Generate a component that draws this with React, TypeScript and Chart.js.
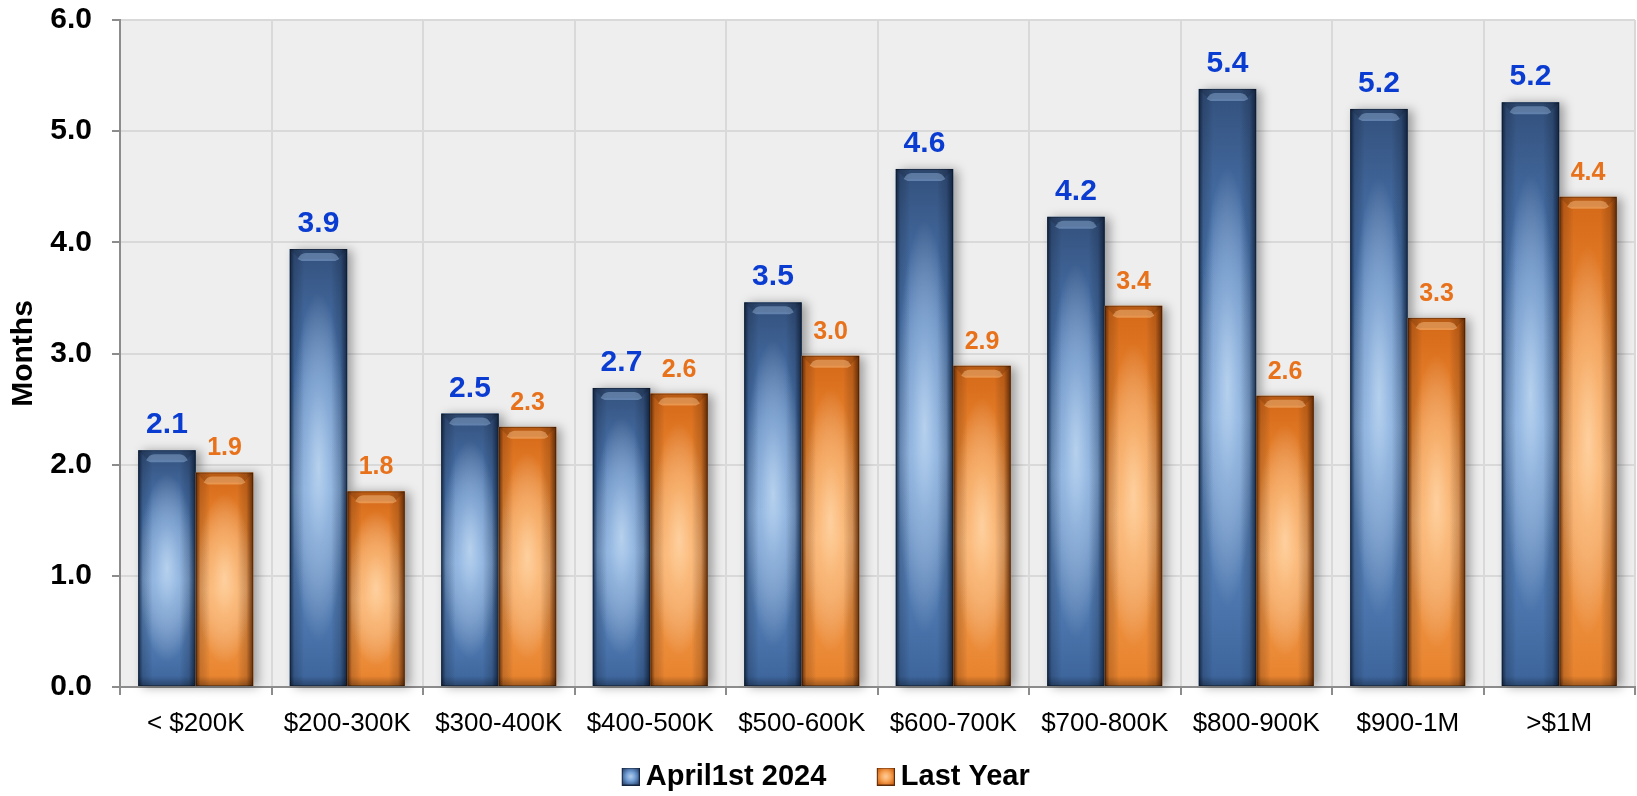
import React, { useEffect, useRef } from 'react';
import { Chart, registerables } from 'chart.js';

Chart.register(...registerables);

const categories = ['< $200K', '$200-300K', '$300-400K', '$400-500K', '$500-600K', '$600-700K', '$700-800K', '$800-900K', '$900-1M', '>$1M'];
const april2024 = [2.13, 3.94, 2.46, 2.69, 3.46, 4.66, 4.23, 5.38, 5.2, 5.26];
const lastYear = [1.93, 1.76, 2.34, 2.64, 2.98, 2.89, 3.43, 2.62, 3.32, 4.41];
const aprilLabels = ['2.1', '3.9', '2.5', '2.7', '3.5', '4.6', '4.2', '5.4', '5.2', '5.2'];
const lastYearLabels = ['1.9', '1.8', '2.3', '2.6', '3.0', '2.9', '3.4', '2.6', '3.3', '4.4'];
const seriesNames = ['April1st 2024', 'Last Year'];
const yMin = 0;
const yMax = 6;
const yStep = 1;

const FONT = '"Liberation Sans", Arial, sans-serif';

type Pal = { top: string; mid: string; light: string; bottom: string; hi: string; edge: string; edgeSoft: string; bevel: string; label: string; labelSize: number };

const palettes: Pal[] = [
  { top: '#33507c', mid: '#4e7cb8', light: '#6d9bd3', bottom: '#3c649b', hi: 'rgba(196,219,243,0.85)', edge: 'rgba(10,22,42,0.8)', edgeSoft: 'rgba(10,22,42,0.22)', bevel: 'rgba(150,185,225,0.45)', label: '#0a3cd2', labelSize: 30 },
  { top: '#d46818', mid: '#ee8a33', light: '#f8a456', bottom: '#e6812c', hi: 'rgba(255,216,172,0.85)', edge: 'rgba(72,30,4,0.85)', edgeSoft: 'rgba(72,30,4,0.22)', bevel: 'rgba(250,190,130,0.5)', label: '#e8721c', labelSize: 25 },
];

function paintBar(ctx: CanvasRenderingContext2D, x: number, top: number, base: number, w: number, p: Pal) {
  const left = x - w / 2;
  const h = base - top;
  if (h <= 0) return;
  ctx.save();
  ctx.save();
  ctx.shadowColor = 'rgba(0,0,0,0.35)';
  ctx.shadowBlur = 10;
  ctx.shadowOffsetX = 5;
  ctx.shadowOffsetY = 1;
  ctx.fillStyle = p.mid;
  ctx.fillRect(left, top, w, h);
  ctx.restore();

  ctx.beginPath();
  ctx.rect(left, top, w, h);
  ctx.clip();

  const vg = ctx.createLinearGradient(0, top, 0, base);
  vg.addColorStop(0, p.top);
  vg.addColorStop(0.3, p.mid);
  vg.addColorStop(0.55, p.light);
  vg.addColorStop(1, p.bottom);
  ctx.fillStyle = vg;
  ctx.fillRect(left, top, w, h);

  const cy = top + h * 0.5;
  const rx = w * 0.5;
  const ry = Math.max(rx * 1.5, Math.min(h * 0.4, 220));
  ctx.save();
  ctx.translate(x, cy);
  ctx.scale(1, ry / rx);
  const rg = ctx.createRadialGradient(0, 0, 0, 0, 0, rx);
  rg.addColorStop(0, p.hi);
  rg.addColorStop(0.45, p.hi.replace(/[\d.]+\)$/, '0.45)'));
  rg.addColorStop(1, 'rgba(255,255,255,0)');
  ctx.fillStyle = rg;
  ctx.fillRect(-w, -rx * 2, w * 2, rx * 4);
  ctx.restore();

  const hg = ctx.createLinearGradient(left, 0, left + w, 0);
  hg.addColorStop(0, p.edge);
  hg.addColorStop(0.08, p.edgeSoft);
  hg.addColorStop(0.25, 'rgba(0,0,0,0)');
  hg.addColorStop(0.72, 'rgba(0,0,0,0)');
  hg.addColorStop(0.88, p.edgeSoft);
  hg.addColorStop(1, p.edge);
  ctx.fillStyle = hg;
  ctx.fillRect(left, top, w, h);

  const bg = ctx.createLinearGradient(0, base - 10, 0, base);
  bg.addColorStop(0, 'rgba(0,0,0,0)');
  bg.addColorStop(1, 'rgba(0,0,0,0.3)');
  ctx.fillStyle = bg;
  ctx.fillRect(left, base - 10, w, 10);

  const bev = Math.min(10, h / 2);
  ctx.beginPath();
  ctx.moveTo(left, top);
  ctx.lineTo(left + w, top);
  ctx.lineTo(left + w - 10, top + bev);
  ctx.lineTo(left + 10, top + bev);
  ctx.closePath();
  ctx.fillStyle = 'rgba(0,0,0,0.12)';
  ctx.fill();
  ctx.beginPath();
  ctx.moveTo(left + 8, top + bev);
  ctx.quadraticCurveTo(left + 11, top + 4, left + 16, top + 4);
  ctx.lineTo(left + w - 16, top + 4);
  ctx.quadraticCurveTo(left + w - 11, top + 4, left + w - 8, top + bev);
  ctx.lineTo(left + w - 12, top + bev + 2);
  ctx.lineTo(left + 12, top + bev + 2);
  ctx.closePath();
  ctx.fillStyle = p.bevel;
  ctx.fill();
  ctx.restore();

  ctx.save();
  ctx.strokeStyle = 'rgba(0,0,0,0.3)';
  ctx.lineWidth = 1;
  ctx.strokeRect(left + 0.5, top + 0.5, w - 1, h - 1);
  ctx.restore();
}

// legend icon: wide transparent canvas with the square at its right end,
// so that the gap to the label text is small as in the reference
const ICON_W = 55;
const SQ = 18;
function legendIcon(p: Pal): HTMLCanvasElement {
  const c = document.createElement('canvas');
  c.width = ICON_W;
  c.height = SQ;
  const ctx = c.getContext('2d')!;
  const x0 = ICON_W - SQ;
  ctx.fillStyle = p.mid;
  ctx.fillRect(x0, 0, SQ, SQ);
  const rg = ctx.createRadialGradient(x0 + SQ / 2, SQ / 2, 0, x0 + SQ / 2, SQ / 2, SQ / 2 + 1);
  rg.addColorStop(0, p.hi);
  rg.addColorStop(0.5, p.light);
  rg.addColorStop(1, p.top);
  ctx.fillStyle = rg;
  ctx.fillRect(x0, 0, SQ, SQ);
  ctx.strokeStyle = p.edge;
  ctx.lineWidth = 1;
  ctx.strokeRect(x0 + 0.5, 0.5, SQ - 1, SQ - 1);
  return c;
}

const labelSets = [aprilLabels, lastYearLabels];

const bgPlugin = {
  id: 'plotBg',
  afterLayout(chart: any) {
    if (chart.legend) {
      chart.legend.left -= 6;
      chart.legend.right -= 6;
    }
  },
  beforeDraw(chart: any) {
    const { ctx, chartArea, width, height } = chart;
    ctx.save();
    ctx.fillStyle = '#ffffff';
    ctx.fillRect(0, 0, width, height);
    ctx.fillStyle = '#eeeeee';
    ctx.fillRect(chartArea.left, chartArea.top, chartArea.right - chartArea.left, chartArea.bottom - chartArea.top);
    ctx.restore();
  },
};

const barPaintPlugin = {
  id: 'barPaint',
  afterDatasetsDraw(chart: any) {
    const ctx = chart.ctx as CanvasRenderingContext2D;
    chart.data.datasets.forEach((_ds: any, di: number) => {
      const meta = chart.getDatasetMeta(di);
      meta.data.forEach((el: any) => {
        paintBar(ctx, el.x, el.y, el.base, el.width, palettes[di]);
      });
    });
    chart.data.datasets.forEach((_ds: any, di: number) => {
      const meta = chart.getDatasetMeta(di);
      const p = palettes[di];
      meta.data.forEach((el: any, i: number) => {
        ctx.save();
        ctx.font = `bold ${p.labelSize}px ${FONT}`;
        ctx.fillStyle = p.label;
        ctx.textAlign = 'center';
        ctx.textBaseline = 'alphabetic';
        ctx.fillText(labelSets[di][i], el.x, el.y - 17);
        ctx.restore();
      });
    });
  },
};

export default function App() {
  const ref = useRef<HTMLCanvasElement>(null);
  useEffect(() => {
    if (!ref.current) return;
    const icons = palettes.map(legendIcon);
    const chart = new Chart(ref.current, {
      type: 'bar',
      data: {
        labels: categories,
        datasets: [
          { label: seriesNames[0], data: april2024, backgroundColor: 'rgba(0,0,0,0)', borderWidth: 0, categoryPercentage: 0.76, barPercentage: 1 },
          { label: seriesNames[1], data: lastYear, backgroundColor: 'rgba(0,0,0,0)', borderWidth: 0, categoryPercentage: 0.76, barPercentage: 1 },
        ],
      },
      options: {
        responsive: false,
        animation: false,
        layout: { padding: { top: 20, right: 2, left: 0, bottom: -5 } },
        plugins: {
          tooltip: { enabled: false },
          legend: {
            position: 'bottom',
            labels: {
              usePointStyle: true,
              boxWidth: 18,
              boxHeight: 18,
              pointStyleWidth: 38,
              padding: 22,
              color: '#000',
              font: { family: FONT, size: 29, weight: 'bold' },
              generateLabels: () =>
                seriesNames.map((n, i) => ({
                  text: n,
                  pointStyle: icons[i] as any,
                  fillStyle: palettes[i].mid,
                  strokeStyle: palettes[i].mid,
                  lineWidth: 0,
                  hidden: false,
                  datasetIndex: i,
                  fontColor: '#000',
                })),
            },
          },
        },
        scales: {
          x: {
            grid: { offset: true, color: '#d9d9d9', lineWidth: 2, tickColor: '#8c8c8c', tickLength: 8 },
            border: { color: '#8c8c8c', width: 2 },
            ticks: { color: '#000', font: { family: FONT, size: 26 }, padding: 13, maxRotation: 0, autoSkip: false },
            afterFit: (s: any) => {
              s.height = 53;
            },
          },
          y: {
            min: yMin,
            max: yMax,
            grid: { color: '#d9d9d9', lineWidth: 2, tickColor: '#8c8c8c', tickLength: 8 },
            border: { color: '#8c8c8c', width: 2 },
            ticks: {
              stepSize: yStep,
              color: '#000',
              padding: 20,
              font: { family: FONT, size: 30, weight: 'bold' },
              callback: (v: any) => Number(v).toFixed(1),
            },
            title: { display: true, text: 'Months', color: '#000', font: { family: FONT, size: 30, weight: 'bold' }, padding: { top: 6, bottom: 0 } },
            afterFit: (s: any) => {
              s.width = 120;
              s.paddingTop = 0;
              s.paddingBottom = 0;
            },
          },
        },
      } as any,
      plugins: [bgPlugin, barPaintPlugin],
    });
    return () => chart.destroy();
  }, []);
  return (
    <div style={{ position: 'fixed', left: 0, top: 0, width: 1637, height: 796, background: '#fff' }}>
      <canvas ref={ref} width={1637} height={796} style={{ display: 'block' }} />
    </div>
  );
}
